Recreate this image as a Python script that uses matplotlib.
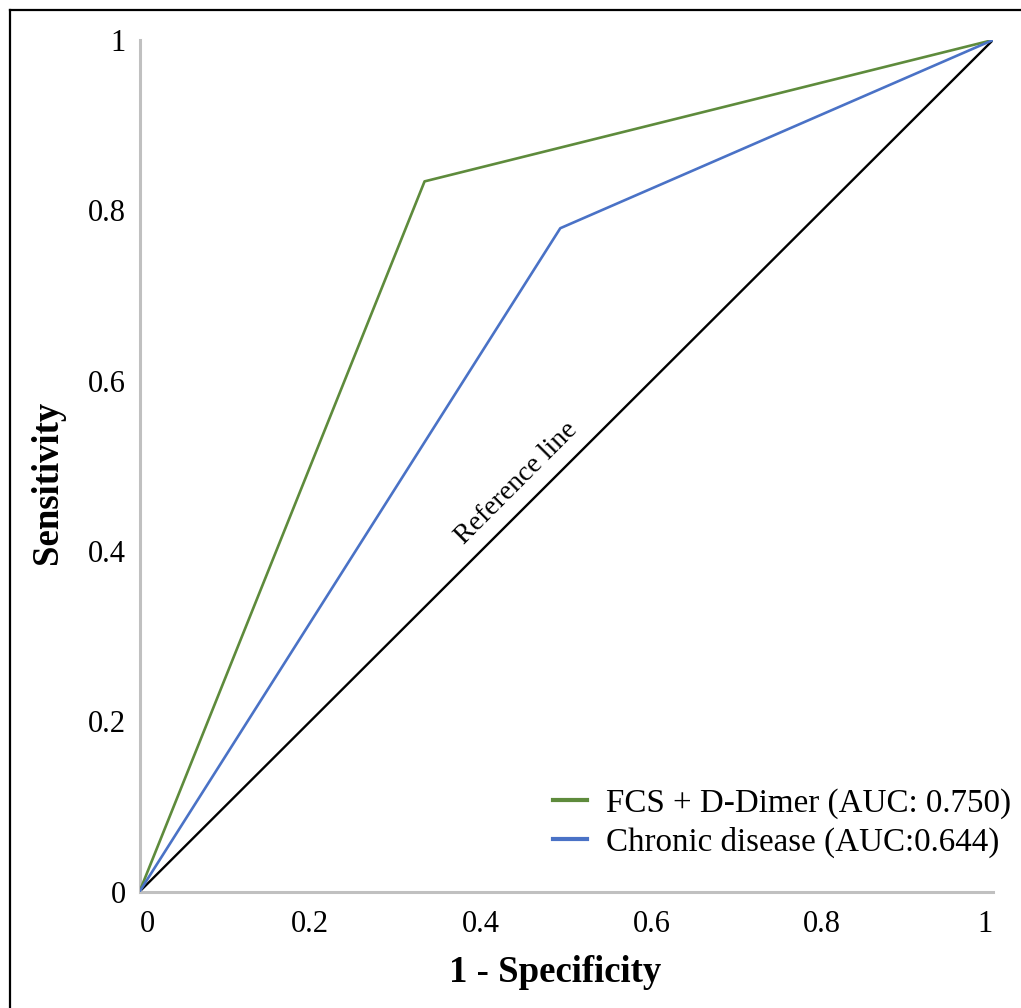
import matplotlib
matplotlib.use("Agg")
import matplotlib.pyplot as plt
from matplotlib.lines import Line2D

plt.rcParams['font.family'] = ['Liberation Serif', 'DejaVu Serif']

# Data
fcs_x = [0.0, 0.334, 1.0]
fcs_y = [0.0, 0.834, 1.0]
chronic_x = [0.0, 0.493, 1.0]
chronic_y = [0.0, 0.779, 1.0]
ref_x = [0.0, 1.0]
ref_y = [0.0, 1.0]
labels = ["FCS + D-Dimer (AUC: 0.750)", "Chronic disease (AUC:0.644)"]
ticks = [0, 0.2, 0.4, 0.6, 0.8, 1]
tick_labels = ["0", "0.2", "0.4", "0.6", "0.8", "1"]

W, H = 1021, 1008
fig = plt.figure(figsize=(W / 100, H / 100), dpi=100)
ax = fig.add_axes([139.5 / W, (H - 891.7) / H, (993 - 139.5) / W, (891.7 - 40) / H])

green = "#5e8b3c"
blue = "#4a72c6"

ax.plot(ref_x, ref_y, color="black", lw=1.7, solid_capstyle="butt", zorder=2)
ax.plot(fcs_x, fcs_y, color=green, lw=1.9, zorder=3)
ax.plot(chronic_x, chronic_y, color=blue, lw=1.9, zorder=3)

ax.set_xlim(0, 1)
ax.set_ylim(0, 1)
ax.set_xticks(ticks)
ax.set_xticklabels(tick_labels)
ax.set_yticks(ticks)
ax.set_yticklabels(tick_labels)
ax.tick_params(axis='both', length=0, labelsize=22)
ax.tick_params(axis='x', pad=13)
ax.tick_params(axis='y', pad=10)
xl = ax.get_xticklabels()
xl[0].set_ha("left")
xl[-1].set_ha("right")

for s in ["top", "right"]:
    ax.spines[s].set_visible(False)
for s in ["left", "bottom"]:
    ax.spines[s].set_color("#c0c0c0")
    ax.spines[s].set_linewidth(2.2)

ax.set_xlabel("1 - Specificity", fontsize=26.5, fontweight="bold", labelpad=12, x=0.487)
ax.set_ylabel("Sensitivity", fontsize=26.5, fontweight="bold", labelpad=16, y=0.481)

ax.text(0.442, 0.48, "Reference line", rotation=45, rotation_mode="anchor",
        ha="center", va="center", fontsize=20, transform=ax.transData)

handles = [Line2D([], [], color=green, lw=3), Line2D([], [], color=blue, lw=3)]
fig.legend(handles, labels, loc="upper left", bbox_to_anchor=(553 / W, (H - 788) / H),
           frameon=False, fontsize=23.8, borderpad=0, borderaxespad=0,
           handlelength=1.03, handletextpad=0.58, labelspacing=0.25)

# Border (top and left visible)
fig.add_artist(Line2D([10 / W, 1.0], [(H - 10) / H, (H - 10) / H], color="black", lw=1.6,
                      transform=fig.transFigure))
fig.add_artist(Line2D([10 / W, 10 / W], [(H - 10) / H, 0.0], color="black", lw=1.6,
                      transform=fig.transFigure))

fig.savefig("out.png", dpi=100)
